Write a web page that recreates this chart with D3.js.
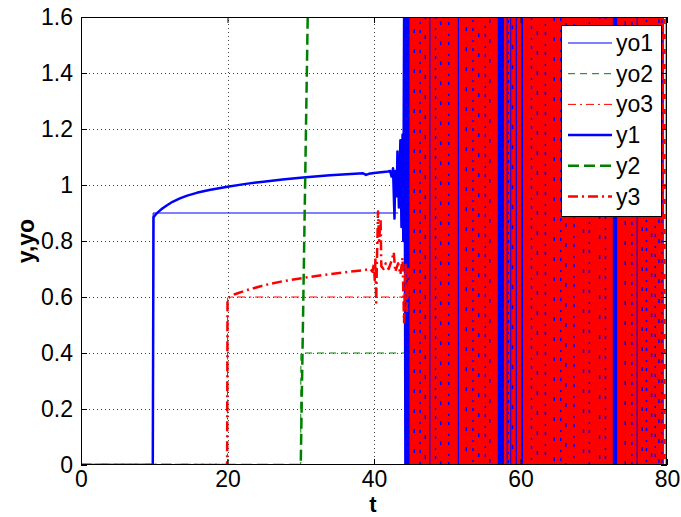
<!DOCTYPE html>
<html>
<head>
<meta charset="utf-8">
<script src="https://cdn.jsdelivr.net/npm/d3@7"></script>
<style>
  body { margin: 0; background: #fff; }
  svg { display: block; font-family: "Liberation Sans", Arial, sans-serif; }
</style>
</head>
<body>
<script>
// chart size
const w = 681
const h = 517
const m = {left: 81, right: 14, top: 17, bottom: 52}

// axis ticks
const xTicks = [0, 20, 40, 60, 80]
const yTicks = [0, 0.2, 0.4, 0.6, 0.8, 1, 1.2, 1.4, 1.6]

// reference signals [t, value]
const yo1 = [[0, 0], [9.8, 0], [9.85, 0.9], [43.3, 0.9]]
const yo2 = [[0, 0], [30, 0], [30.02, 0.4], [44.5, 0.4]]
const yo3 = [[0, 0], [20, 0], [20.02, 0.6], [44.1, 0.6]]

// outputs before the instability [t, value]
const y1 = [[0, 0], [9.8, 0], [9.85, 0.45], [9.9, 0.885], [10.2, 0.895], [10.6, 0.905], [11.1, 0.916],
  [11.7, 0.927], [12.5, 0.94], [13.5, 0.952], [14.5, 0.962], [15.8, 0.972], [17.5, 0.982], [20, 0.994],
  [22.5, 1.004], [24.9, 1.012], [27.5, 1.02], [30.3, 1.027], [34, 1.035], [38.5, 1.042], [38.9, 1.036],
  [39.3, 1.04], [40, 1.043], [41.9, 1.048], [42.2, 1.05], [42.4, 1.03], [42.6, 1.06], [42.8, 0.88],
  [42.9, 1.05], [43.1, 0.96], [43.2, 1.12], [43.4, 0.92], [43.6, 1.16], [43.75, 0.85], [43.9, 1.18],
  [44.0, 0.8], [44.15, 1.9], [44.3, -0.2], [44.45, 1.9], [44.6, -0.2], [44.75, 1.9], [44.9, -0.2]]
const y2 = [[0, 0], [30, 0], [30.95, 1.6], [31.3, 1.75]]
const y3 = [[0, 0], [19.95, 0], [20, 0.595], [21, 0.61], [22.7, 0.625], [25, 0.642], [27.3, 0.655],
  [30.5, 0.669], [34, 0.682], [38.6, 0.696], [39.5, 0.7], [39.8, 0.69], [40.0, 0.72], [40.1, 0.66],
  [40.2, 0.74], [40.3, 0.58], [40.4, 0.73], [40.55, 0.905], [40.7, 0.8], [40.9, 0.88], [41.0, 0.71],
  [41.3, 0.7], [41.6, 0.72], [42.0, 0.7], [42.4, 0.73], [42.7, 0.76], [42.9, 0.69], [43.3, 0.72],
  [43.6, 0.68], [43.9, 0.74], [44.1, 0.51], [44.3, 0.72], [44.5, 0.55], [44.7, 0.7], [44.85, 0.6]]

// unstable part: y3 swings far beyond the axes over this span
const chaosSpans = [[44.85, 79.6], [79.8, 80]]
const y3LastSwing = [79.7]
// y1 swings that show through the red: solid bands [t0, t1] and dotted traces
const y1Bands = [[47.55, 47.7], [51.45, 51.6], [56.9, 57.75], [58.1, 58.25], [58.6, 58.7],
  [59.35, 59.5], [60.1, 60.35], [72.6, 73.2], [75.85, 75.95]]
const y1Dotted = [45.5, 46.3, 47.0, 48.4, 49.1, 50.2, 52.6, 53.5, 54.3, 55.2, 55.8, 58.35, 58.9,
  61.5, 62.3, 63.4, 64.6, 65.5, 66.2, 67.3, 68.6, 69.4, 70.8, 71.6, 74.3, 75.2, 76.6, 77.2, 77.9,
  78.4, 78.9, 79.3]

const legendNames = ['yo1', 'yo2', 'yo3', 'y1', 'y2', 'y3']

const blue = '#0000ff', green = '#008000', red = '#ff0000'

const xScale = d3.scaleLinear().domain([0, 80]).range([m.left, w - m.right])
const yScale = d3.scaleLinear().domain([0, 1.6]).range([h - m.bottom, m.top])
const x0 = xScale(0), x1 = xScale(80), yb = yScale(0), yt = yScale(1.6)

const svg = d3.select('body').append('svg').attr('width', w).attr('height', h)

svg.append('clipPath').attr('id', 'plot')
  .append('rect').attr('x', x0).attr('y', yt).attr('width', x1 - x0).attr('height', yb - yt)

// dotted grid
const grid = svg.append('g').attr('stroke', '#444').attr('stroke-width', 1).attr('stroke-dasharray', '1,3')
grid.selectAll('.gx').data(xTicks.slice(1, -1)).enter().append('line')
  .attr('x1', d => Math.round(xScale(d)) + 0.5).attr('x2', d => Math.round(xScale(d)) + 0.5)
  .attr('y1', yb).attr('y2', yt)
grid.selectAll('.gy').data(yTicks.slice(1, -1)).enter().append('line')
  .attr('y1', d => Math.round(yScale(d)) + 0.5).attr('y2', d => Math.round(yScale(d)) + 0.5)
  .attr('x1', x0).attr('x2', x1)

const plot = svg.append('g').attr('clip-path', 'url(#plot)')
const line = d3.line().x(d => xScale(d[0])).y(d => yScale(d[1]))

const drawLine = function(data, color, width, dash) {
  plot.append('path').datum(data).attr('d', line)
    .attr('fill', 'none').attr('stroke', color).attr('stroke-width', width)
    .attr('stroke-dasharray', dash).attr('stroke-linejoin', 'round')
}

drawLine(yo1, blue, 1, null)
drawLine(yo2, green, 1, '7,5')
drawLine(yo3, red, 1, '8,4,2,4')
drawLine(y1, blue, 2.5, null)
drawLine(y2, green, 2.5, '11,5')

// red chaos region (y3 swinging beyond the axes)
plot.selectAll('.chaos').data(chaosSpans).enter().append('rect')
  .attr('x', d => xScale(d[0])).attr('width', d => xScale(d[1]) - xScale(d[0]))
  .attr('y', yScale(1.7)).attr('height', yScale(-0.1) - yScale(1.7))
  .attr('fill', red)

// y1 visible through the red
plot.selectAll('.band').data(y1Bands).enter().append('rect')
  .attr('x', d => xScale(d[0])).attr('width', d => Math.max(1, xScale(d[1]) - xScale(d[0])))
  .attr('y', yScale(1.7)).attr('height', yScale(-0.1) - yScale(1.7))
  .attr('fill', blue)
plot.selectAll('.dotted').data(y1Dotted).enter().append('line')
  .attr('x1', d => xScale(d)).attr('x2', d => xScale(d))
  .attr('y1', yScale(1.7)).attr('y2', yScale(-0.1))
  .attr('stroke', blue).attr('stroke-width', 1.5)
  .attr('stroke-dasharray', (d, i) => i % 2 ? '2,6,3,9' : '4,16')
  .attr('stroke-dashoffset', (d, i) => (i * 7) % 20)

drawLine(y3, red, 2.5, '10,4,2,4')
plot.selectAll('.last').data(y3LastSwing).enter().append('line')
  .attr('x1', d => xScale(d)).attr('x2', d => xScale(d))
  .attr('y1', yScale(1.7)).attr('y2', yScale(-0.1))
  .attr('stroke', red).attr('stroke-width', 2).attr('stroke-dasharray', '5,10')

// axes box and inward ticks
svg.append('rect').attr('x', x0 + 0.5).attr('y', yt + 0.5)
  .attr('width', x1 - x0 - 1).attr('height', yb - yt - 1)
  .attr('fill', 'none').attr('stroke', '#000').attr('stroke-width', 1)

const axisFont = g => g.selectAll('text').attr('font-size', 23).attr('fill', '#000')
  .attr('font-family', '"Liberation Sans", Arial, sans-serif')

svg.append('g').attr('transform', `translate(0,${yb})`)
  .call(d3.axisBottom(xScale).tickValues(xTicks).tickSize(-6).tickPadding(6).tickFormat(d3.format('d')))
  .call(g => g.select('.domain').remove())
  .call(axisFont)
svg.append('g').attr('transform', `translate(0,${yt})`)
  .call(d3.axisTop(xScale).tickValues(xTicks).tickSize(-6).tickFormat(''))
  .call(g => g.select('.domain').remove())
svg.append('g').attr('transform', `translate(${x0},0)`)
  .call(d3.axisLeft(yScale).tickValues(yTicks).tickSize(-6).tickPadding(8).tickFormat(d => d3.format('~g')(d)))
  .call(g => g.select('.domain').remove())
  .call(axisFont)
svg.append('g').attr('transform', `translate(${x1},0)`)
  .call(d3.axisRight(yScale).tickValues(yTicks).tickSize(-6).tickFormat(''))
  .call(g => g.select('.domain').remove())

// axis labels
svg.append('text').attr('x', xScale(40) - 1).attr('y', 512).attr('text-anchor', 'middle')
  .attr('font-size', 22).attr('font-weight', 'bold').text('t')
svg.append('text').attr('transform', `translate(34,${yScale(0.8)}) rotate(-90)`)
  .attr('text-anchor', 'middle').attr('font-size', 23).attr('font-weight', 'bold').text('y,yo')

// legend
const styles = [
  {c: blue, w: 1, d: null}, {c: green, w: 1, d: '7,5'}, {c: red, w: 1, d: '8,4,2,4'},
  {c: blue, w: 2.5, d: null}, {c: green, w: 2.5, d: '11,5'}, {c: red, w: 2.5, d: '10,4,2,4'}
]
const lg = svg.append('g')
lg.append('rect').attr('x', 561.5).attr('y', 25.5).attr('width', 100).attr('height', 191)
  .attr('fill', '#fff').attr('stroke', '#000')
const rows = lg.selectAll('.row').data(legendNames).enter().append('g')
  .attr('transform', (d, i) => `translate(0,${43 + i * 30.7})`)
rows.append('line').attr('x1', 568).attr('x2', 612).attr('y1', 0).attr('y2', 0)
  .attr('stroke', (d, i) => styles[i].c).attr('stroke-width', (d, i) => styles[i].w)
  .attr('stroke-dasharray', (d, i) => styles[i].d)
rows.append('text').attr('x', 616).attr('y', 8).attr('font-size', 23).text(d => d)
</script>
</body>
</html>
